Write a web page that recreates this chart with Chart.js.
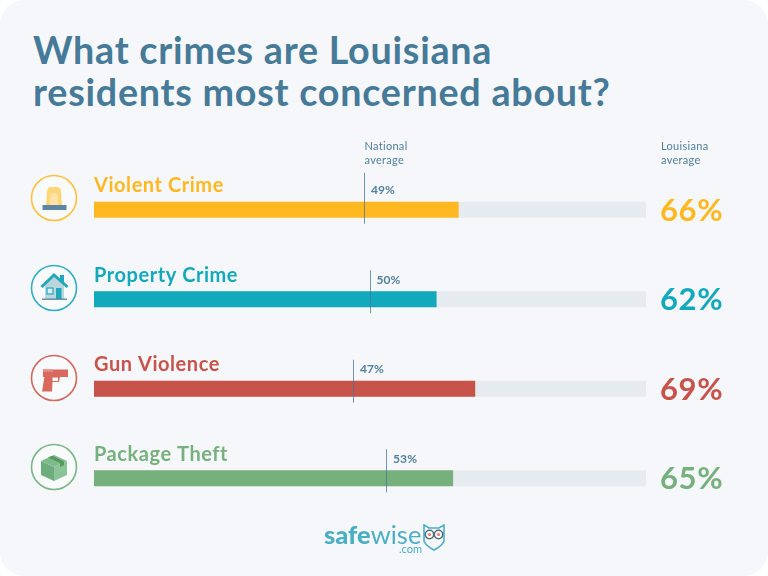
<!DOCTYPE html>
<html lang="en">
<head>
    <meta charset="UTF-8">
    <title>What crimes are Louisiana residents most concerned about?</title>
    <script src="https://cdn.jsdelivr.net/npm/chart.js"></script>
    <style>
        html, body {
            margin: 0;
            padding: 0;
            background: #fff;
        }
        #card {
            position: relative;
            width: 768px;
            height: 576px;
            background: #f6f7fa;
            border-radius: 24px;
            overflow: hidden;
            font-family: Lato, sans-serif;
        }
        #myChart {
            position: absolute;
            left: 0;
            top: 0;
        }
        h1 {
            position: absolute;
            left: 33px;
            top: 29px;
            margin: 0;
            font-size: 37.7px;
            line-height: 42px;
            font-weight: 700;
            color: #457a98;
            letter-spacing: 0.75px;
            white-space: nowrap;
        }
        svg.icon {
            position: absolute;
            left: 30px;
        }
        #logo {
            position: absolute;
            left: 324px;
            top: 519px;
            font-size: 25.5px;
            line-height: 30px;
            color: #4bafc4;
            white-space: nowrap;
        }
        #logo b {
            font-weight: 900;
        }
        #logoCom {
            position: absolute;
            left: 399px;
            top: 543px;
            font-size: 11px;
            line-height: 12px;
            color: #4bafc4;
        }
    </style>
</head>
<body>
<div id="card">
    <h1>What crimes are Louisiana<br>residents most concerned about?</h1>

    <svg class="icon" style="top:174px" width="48" height="48" viewBox="30 174 48 48">
        <circle cx="54" cy="198" r="22.5" fill="#f8fafc" stroke="#ffc040" stroke-width="1.6"/>
        <path d="M46 205 L47 191 Q47.5 187 51 187 L57 187 Q60.5 187 61 191 L62 205 Z" fill="#ffd677"/>
        <path d="M50 205 L50 196 Q50 193 54 193 Q58 193 58 196 L58 205 Z" fill="#ffe3a6"/>
        <rect x="42.5" y="205" width="24" height="5" fill="#5b87a5"/>
    </svg>

    <svg class="icon" style="top:264px" width="48" height="48" viewBox="30 264 48 48">
        <circle cx="54" cy="288" r="22.5" fill="#f8fafc" stroke="#2fb0c2" stroke-width="1.6"/>
        <rect x="60" y="275" width="4" height="7" fill="#22a8bb"/>
        <path d="M45 285 L54 276 L64 285 L64 299 L45 299 Z" fill="#bcd6de"/>
        <path d="M41.5 287 L54 275 L67.5 287" fill="none" stroke="#22a8bb" stroke-width="3"/>
        <rect x="47" y="288" width="6" height="6" fill="#d9edf1" stroke="#22a8bb" stroke-width="1.2"/>
        <rect x="56" y="288" width="5.5" height="11" fill="#22a8bb"/>
        <rect x="42" y="298.5" width="25" height="1.4" fill="#5b87a5"/>
    </svg>

    <svg class="icon" style="top:353.5px" width="48" height="48" viewBox="30 353.5 48 48">
        <circle cx="54" cy="377.5" r="22.5" fill="#f8fafc" stroke="#d2675c" stroke-width="1.6"/>
        <rect x="43" y="369" width="25" height="7.5" fill="#d9695c"/>
        <rect x="43" y="369" width="10" height="2.5" fill="#e58a7f"/>
        <path d="M44.5 376 L60 376 L59 381.5 L52.5 381.5 L52 391 L42 391 Z" fill="#d9695c"/>
        <rect x="52.5" y="377" width="5.5" height="3.5" fill="#f8fafc"/>
    </svg>

    <svg class="icon" style="top:443px" width="48" height="48" viewBox="30 443 48 48">
        <circle cx="54" cy="467" r="22.5" fill="#f8fafc" stroke="#7ab686" stroke-width="1.6"/>
        <path d="M41 461 L54 467 L54 481 L41 475 Z" fill="#6eae7d"/>
        <path d="M67 461 L54 467 L54 481 L67 475 Z" fill="#8cc398"/>
        <path d="M41 461 L54 455 L67 461 L54 467 Z" fill="#7fba8d"/>
        <path d="M48 457.5 L52 455.8 L64 461.5 L64 465 L60 467 L60 463 Z" fill="#55995f"/>
    </svg>

    <canvas id="myChart" width="768" height="576"></canvas>

    <div id="logo"><b>safe</b>wise</div>
    <div id="logoCom">.com</div>
    <svg style="position:absolute;left:423px;top:524px" width="22" height="27" viewBox="0 0 22 27">
        <path d="M1 1 L6 4 L16 4 L21 1 L21 17 Q19 22 11 26 Q3 22 1 17 Z" fill="none" stroke="#4bafc4" stroke-width="1.6"/>
        <circle cx="6.5" cy="10.5" r="4.2" fill="#fff" stroke="#4a6b7c" stroke-width="1.5"/>
        <circle cx="15.5" cy="10.5" r="4.2" fill="#fff" stroke="#4a6b7c" stroke-width="1.5"/>
        <circle cx="6.5" cy="10.5" r="1.6" fill="#ee7a66"/>
        <circle cx="15.5" cy="10.5" r="1.6" fill="#ee7a66"/>
    </svg>
</div>

<script>
    const categorias = ['Violent Crime', 'Property Crime', 'Gun Violence', 'Package Theft'];
    const louisiana = [66, 62, 69, 65];
    const nacional = [49, 50, 47, 53];
    const pista = [100, 100, 100, 100];
    const colores = ['#ffb81f', '#13a9bc', '#c7534a', '#76b07c'];
    const encabezadoNacional = ['National', 'average'];
    const encabezadoLouisiana = ['Louisiana', 'average'];

    const AZUL = '#4f7f9c';
    const FUENTE = 'Lato, sans-serif';

    // Etiquetas, valores y marcas del promedio nacional
    const anotaciones = {
        id: 'anotaciones',
        afterDatasetsDraw(chart) {
            const ctx = chart.ctx;
            const x = chart.scales.x;
            const y = chart.scales.y;
            const meta = chart.getDatasetMeta(0);
            ctx.save();
            ctx.textBaseline = 'alphabetic';

            categorias.forEach(function(cat, i) {
                const cy = y.getPixelForValue(i);
                const topBar = meta.data[i].y - meta.data[i].height / 2;

                ctx.fillStyle = colores[i];
                ctx.font = '700 20px ' + FUENTE;
                ctx.letterSpacing = '0.55px';
                ctx.fillText(cat, x.left, topBar - 10);

                ctx.font = '700 31px ' + FUENTE;
                ctx.letterSpacing = '0.6px';
                ctx.fillText(louisiana[i] + '%', x.right + 14, cy + 11);

                const nx = x.getPixelForValue(nacional[i]);
                ctx.strokeStyle = 'rgba(70, 115, 150, 0.75)';
                ctx.lineWidth = 1;
                ctx.beginPath();
                ctx.moveTo(Math.floor(nx) + 0.5, cy - (i === 0 ? 37 : 29));
                ctx.lineTo(Math.floor(nx) + 0.5, cy + 14);
                ctx.stroke();

                ctx.fillStyle = AZUL;
                ctx.font = '700 12px ' + FUENTE;
                ctx.letterSpacing = '0.1px';
                ctx.fillText(nacional[i] + '%', nx + 6.5, topBar - 8);
            });

            ctx.font = '400 11px ' + FUENTE;
            ctx.letterSpacing = '0.3px';
            ctx.fillStyle = AZUL;
            const nx0 = x.getPixelForValue(nacional[0]);
            encabezadoNacional.forEach(function(t, i) {
                ctx.fillText(t, nx0, 150 + i * 14);
            });
            encabezadoLouisiana.forEach(function(t, i) {
                ctx.fillText(t, x.right + 15, 150 + i * 14);
            });
            ctx.restore();
        }
    };

    new Chart(document.getElementById('myChart').getContext('2d'), {
        type: 'bar',
        data: {
            labels: categorias,
            datasets: [
                {
                    label: 'Louisiana average',
                    data: louisiana,
                    backgroundColor: colores,
                    grouped: false,
                    barThickness: 15.5
                },
                {
                    label: 'Scale',
                    data: pista,
                    backgroundColor: '#e6ebef',
                    grouped: false,
                    barThickness: 15.5
                }
            ]
        },
        options: {
            indexAxis: 'y',
            responsive: false,
            animation: false,
            layout: {
                padding: { left: 94, right: 122, top: 165, bottom: 53 }
            },
            plugins: {
                legend: { display: false },
                title: { display: false },
                tooltip: { enabled: false }
            },
            scales: {
                x: { display: false, min: 0, max: 100 },
                y: { display: false }
            }
        },
        plugins: [anotaciones]
    });
</script>
</body>
</html>
